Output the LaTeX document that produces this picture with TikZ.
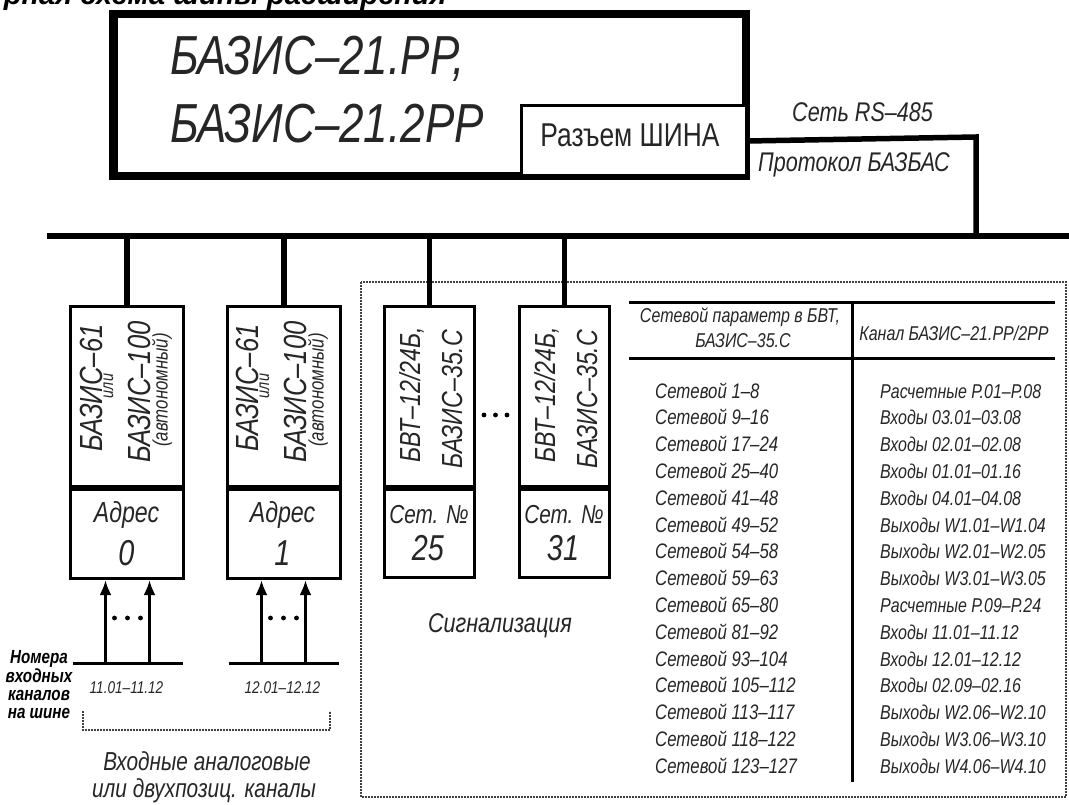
\documentclass[tikz,border=0pt]{standalone}
\usepackage{fontspec}
\usetikzlibrary{arrows.meta}
\newfontfamily\gost[FakeStretch=0.8]{Liberation Sans}
\newfontfamily\ttlfont{Liberation Sans}
\newcommand\fsz[1]{\fontsize{#1}{#1}\selectfont}
\begin{document}
\begin{tikzpicture}[x=1pt,y=-1pt,
  busline/.style={line width=5.5pt},
  boxline/.style={line width=3pt},
  modbox/.style={draw, line width=3pt, inner sep=0pt, anchor=north west},
  dotline/.style={line width=2pt, black!75, dash pattern=on 1.6pt off 1.4pt},
  gt/.style={inner sep=0pt, anchor=base, text=black!85, font=\gost\itshape\fsz{#1}},
  gtw/.style={inner sep=0pt, anchor=base west, text=black!85, font=\gost\itshape\fsz{#1}},
  rt/.style={inner sep=0pt, anchor=base, rotate=90, text=black!85, font=\gost\itshape\fsz{#1}},
  arr/.style={line width=3pt, -{Latex[length=15pt,width=12pt]}},
  dot/.style={fill=black}
]
\useasboundingbox (0,0) rectangle (1069,805);
\clip (0,0) rectangle (1069,805);

% title (cut off at the top of the picture)
\node[anchor=base east, inner sep=0pt, font=\ttlfont\bfseries\itshape\fsz{29}] (title) at (447,5) {Структурная схема шины расширения};

% main controller box
\node[draw, line width=5.5pt, minimum width=630pt, minimum height=159pt, anchor=north west, inner sep=0pt] (main) at (112,13) {};
\node[draw, line width=3pt, minimum width=225pt, minimum height=70pt, anchor=south east, inner sep=0pt, fill=white] (conn) at (main.south east) {};
\draw[line width=5.5pt] (main.north west) rectangle (main.south east);
\node[gtw=55] (mt1) at (170,75) {БАЗИС–21.РР,};
\node[gtw=55] (mt2) at (170,143) {БАЗИС–21.2РР};
\node[inner sep=0pt, anchor=base, text=black!85, font=\gost\fsz{33}] (connt) at (630,147) {Разъем ШИНА};

% network line to bus
\coordinate (turn) at (976,137);
\coordinate (busL) at (47,236);
\coordinate (busR) at (1069,236);
\draw[busline] (conn.east) -- (turn) -- (turn |- busL);
\draw[busline] (busL) -- (busR);
\node[gtw=27] (net) at (792,122) {Сеть RS–485};
\node[gtw=27] (proto) at (758,172) {Протокол БАЗБАС};

% dotted area of signalling modules
\draw[dotline] (361,282) rectangle (1066,797);

% modules 1, 2
\foreach \n/\x/\cx/\adr in {1/69/126.5/0, 2/226/282.5/1}{
  \node[modbox, minimum width=113pt, minimum height=180pt] (m\n) at (\x,305) {};
  \node[modbox, minimum width=113pt, minimum height=89pt] (mb\n) at (m\n.south west) {};
  \draw[busline] (m\n.north) -- (m\n.north |- busL);
  \node[rt=32] (m\n-a) at (\cx-24.5,388) {БАЗИС–61};
  \node[rt=18] (m\n-b) at (\cx-13.5,386) {или};
  \node[rt=32] (m\n-c) at (\cx+23.5,392) {БАЗИС–100};
  \node[rt=21] (m\n-d) at (\cx+41,390) {(автономный)};
  \node[gt=29] (ad\n) at (\cx,522) {Адрес};
  \node[gt=36] (an\n) at (\cx,565) {\adr};
  \coordinate (bl\n) at (\cx-54,663);
  \coordinate (br\n) at (\cx+56,663);
  \draw[boxline] (bl\n) -- (br\n);
  \coordinate (al\n) at (\cx-21,663);
  \coordinate (ar\n) at (\cx+23,663);
  \draw[arr] (al\n) -- (al\n |- mb\n.south);
  \draw[arr] (ar\n) -- (ar\n |- mb\n.south);
  \foreach \d in {-12,1,14}{\fill[dot] (\cx+\d,618) circle (2.4pt);}
}
\node[gt=17] (ch1) at (126.5,693) {11.01–11.12};
\node[gt=17] (ch2) at (282.5,693) {12.01–12.12};

% left label
\foreach \t/\yy [count=\i] in {Номера/663, входных/682, каналов/700, на шине/718}{
  \node[inner sep=0pt, anchor=base, text=black, font=\gost\bfseries\itshape\fsz{19}] (lab\i) at (39,\yy) {\t};
}

% bracket and caption of input channels
\draw[dotline] (83,711) -- (83,730) -- (330,730) -- (330,711);
\node[gt=26] (in1) at (207,770) {Входные аналоговые};
\node[gt=26] (in2) at (204,797) {или двухпозиц. каналы};

% modules 3, 4
\foreach \n/\x/\cx/\num in {3/383/428/25, 4/518/563/31}{
  \node[modbox, minimum width=90pt, minimum height=180pt] (m\n) at (\x,305) {};
  \node[modbox, minimum width=90pt, minimum height=88pt] (mb\n) at (m\n.south west) {};
  \draw[busline] (m\n.north) -- (m\n.north |- busL);
  \node[rt=29] (m\n-a) at (\cx-8,395) {БВТ–12/24Б,};
  \node[rt=29] (m\n-b) at (\cx+34,399) {БАЗИС–35.С};
  \node[gt=26] (sn\n) at (\cx+1,523) {Сет. №};
  \node[gt=36] (nn\n) at (\cx,560) {\num};
}
\foreach \d in {-11.5,0,11.5}{\fill[dot] (495.5+\d,415) circle (2.4pt);}
\node[gt=27] (sig) at (500,632) {Сигнализация};

% table
\coordinate (tl) at (629,303);
\coordinate (tr) at (1055,303);
\coordinate (ml) at (629,358);
\coordinate (mr) at (1055,358);
\coordinate (vt) at (852,303);
\coordinate (vb) at (852,782);
\draw[boxline] (tl) -- (tr);
\draw[boxline] (ml) -- (mr);
\draw[boxline] (vt) -- (vb);
\node[gt=20] (h1) at (740,323) {Сетевой параметр в БВТ,};
\node[gt=20] (h2) at (743,348) {БАЗИС–35.С};
\node[gt=20] (h3) at (954,341) {Канал БАЗИС–21.РР/2РР};
\foreach \l/\r [count=\i from 0] in {
  Сетевой 1–8/Расчетные Р.01–Р.08,
  Сетевой 9–16/Входы 03.01–03.08,
  Сетевой 17–24/Входы 02.01–02.08,
  Сетевой 25–40/Входы 01.01–01.16,
  Сетевой 41–48/Входы 04.01–04.08,
  Сетевой 49–52/Выходы W1.01–W1.04,
  Сетевой 54–58/Выходы W2.01–W2.05,
  Сетевой 59–63/Выходы W3.01–W3.05,
  Сетевой 65–80/Расчетные Р.09–Р.24,
  Сетевой 81–92/Входы 11.01–11.12,
  Сетевой 93–104/Входы 12.01–12.12,
  Сетевой 105–112/Входы 02.09–02.16,
  Сетевой 113–117/Выходы W2.06–W2.10,
  Сетевой 118–122/Выходы W3.06–W3.10,
  Сетевой 123–127/Выходы W4.06–W4.10}{
  \node[gtw=21] (rl\i) at (655,398+26.8*\i) {\l};
  \node[gtw=20] (rr\i) at (880,398+26.8*\i) {\r};
}
\end{tikzpicture}
\end{document}
